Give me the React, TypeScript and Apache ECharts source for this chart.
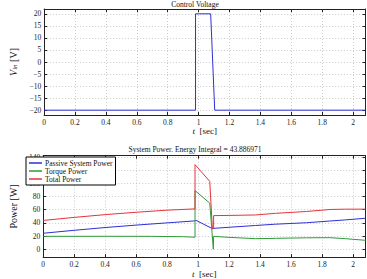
import React, { useEffect, useRef } from "react";
import * as echarts from "echarts";

// Time axis ticks (seconds) and value ticks for each panel
const timeTicks = [0, 0.2, 0.4, 0.6, 0.8, 1, 1.2, 1.4, 1.6, 1.8, 2];
const voltTicks = [-20, -15, -10, -5, 0, 5, 10, 15, 20];
const powerTicks = [0, 20, 40, 60, 80, 100, 120, 140];

// Control voltage [t, V]
const controlVoltage: [number, number][] = [
  [0, -20], [0.98, -20], [0.98, 20], [1.078, 20], [1.104, -20], [2.08, -20],
];

// Passive system power [t, W]
const passivePower: [number, number][] = [
  [0, 24.2], [0.2, 28.7], [0.4, 32.9], [0.6, 36.6], [0.8, 40], [0.98, 43],
  [0.985, 44], [1.09, 31.5], [1.2, 33.3], [1.37, 36], [1.5, 38], [1.7, 40.2],
  [1.85, 42.8], [1.95, 44.5], [2.08, 47],
];

// Torque power [t, W]
const torquePower: [number, number][] = [
  [0, 19.5], [0.4, 19.6], [0.7, 19.5], [0.9, 19], [0.98, 18.2],
  [0.98, 89], [1.075, 70], [1.09, 25], [1.098, 0], [1.1, 19.5],
  [1.2, 18], [1.37, 16], [1.5, 16.5], [1.7, 17.3], [1.85, 17.5], [1.95, 16],
  [2.08, 13.5],
];

// Total power [t, W]
const totalPower: [number, number][] = [
  [0, 43.7], [0.2, 48.3], [0.4, 52.5], [0.6, 56.1], [0.8, 59.3], [0.98, 61.2],
  [0.98, 128.5], [1.075, 103], [1.092, 31], [1.1, 31], [1.1, 51],
  [1.2, 51.3], [1.37, 52], [1.5, 54.5], [1.7, 57.3], [1.85, 60.3], [1.95, 60.8],
  [2.08, 60.8],
];

const FONT = "Liberation Serif";
const AXIS_COLOR = "#222";
const GRID_COLOR = "#bdbdbd";

const fmtMinus = (v: number) => String(v).replace("-", "\u2212");

function mainX(gridIndex: number) {
  return {
    type: "value" as const,
    gridIndex,
    min: 0,
    max: 2.08,
    position: "bottom" as const,
    name: "{i|t}  [sec]",
    nameLocation: "middle" as const,
    nameGap: 8,
    nameTextStyle: {
      fontFamily: FONT,
      fontSize: 9,
      color: "#111",
      rich: { i: { fontFamily: FONT, fontSize: 9, fontStyle: "italic", color: "#111" } },
    },
    axisLine: { show: true, onZero: false, lineStyle: { color: AXIS_COLOR, width: 1 } },
    axisTick: { show: true, inside: true, length: 3, customValues: timeTicks, lineStyle: { color: AXIS_COLOR } },
    axisLabel: { show: true, customValues: timeTicks, margin: 3, fontFamily: FONT, fontSize: 7.5, color: "#222" },
    splitLine: { show: true, lineStyle: { color: GRID_COLOR, type: [1, 2], width: 0.8 } },
  };
}

function mirrorX(gridIndex: number) {
  return {
    type: "value" as const,
    gridIndex,
    min: 0,
    max: 2.08,
    position: "top" as const,
    axisLine: { show: true, onZero: false, lineStyle: { color: AXIS_COLOR, width: 1 } },
    axisTick: { show: true, inside: true, length: 3, customValues: timeTicks, lineStyle: { color: AXIS_COLOR } },
    axisLabel: { show: false },
    splitLine: { show: false },
  };
}

function mainY(gridIndex: number, min: number, max: number, ticks: number[], name: string, rich: any) {
  return {
    type: "value" as const,
    gridIndex,
    min,
    max,
    position: "left" as const,
    name,
    nameLocation: "middle" as const,
    nameGap: 14,
    nameTextStyle: { fontFamily: FONT, fontSize: 10, color: "#111", rich },
    axisLine: { show: true, onZero: false, lineStyle: { color: AXIS_COLOR, width: 1 } },
    axisTick: { show: true, inside: true, length: 3, customValues: ticks, lineStyle: { color: AXIS_COLOR } },
    axisLabel: {
      show: true,
      customValues: ticks,
      margin: 3,
      fontFamily: FONT,
      fontSize: 7.5,
      color: "#222",
      formatter: (v: number) => fmtMinus(v),
    },
    splitLine: { show: true, lineStyle: { color: GRID_COLOR, type: [1, 2], width: 0.8 } },
  };
}

function mirrorY(gridIndex: number, min: number, max: number, ticks: number[]) {
  return {
    type: "value" as const,
    gridIndex,
    min,
    max,
    position: "right" as const,
    axisLine: { show: true, onZero: false, lineStyle: { color: AXIS_COLOR, width: 1 } },
    axisTick: { show: true, inside: true, length: 3, customValues: ticks, lineStyle: { color: AXIS_COLOR } },
    axisLabel: { show: false },
    splitLine: { show: false },
  };
}

export default function App() {
  const ref = useRef<HTMLDivElement>(null);

  useEffect(() => {
    if (!ref.current) return;
    const chart = echarts.init(ref.current, undefined, { renderer: "svg" });

    const lineSeries = (name: string, data: [number, number][], color: string, axis: number) => ({
      name,
      type: "line" as const,
      data,
      xAxisIndex: axis,
      yAxisIndex: axis,
      showSymbol: false,
      symbol: "none",
      lineStyle: { color, width: 1 },
      itemStyle: { color },
      z: 3,
    });

    chart.setOption({
      animation: false,
      backgroundColor: "#fff",
      title: [
        {
          text: "Control Voltage",
          left: 195,
          top: 0,
          padding: 0,
          textAlign: "center",
          textStyle: { fontFamily: FONT, fontSize: 7.5, fontWeight: "normal", color: "#111" },
        },
        {
          text: "System Power. Energy Integral = 43.886971",
          left: 195,
          top: 145,
          padding: 0,
          textAlign: "center",
          textStyle: { fontFamily: FONT, fontSize: 7.5, fontWeight: "normal", color: "#111" },
        },
      ],
      legend: {
        data: ["Passive System Power", "Torque Power", "Total Power"],
        orient: "vertical",
        left: 26,
        top: 157,
        itemWidth: 13,
        itemHeight: 1.5,
        itemGap: 0,
        icon: "rect",
        padding: [2, 3, 2, 3],
        borderColor: "#000",
        borderWidth: 1,
        backgroundColor: "#fff",
        textStyle: { fontFamily: FONT, fontSize: 7.5, color: "#111", lineHeight: 8, padding: [0, 0, 0, -2] },
        z: 10,
      },
      grid: [
        { left: 25, top: 9, width: 340.5, height: 106 },
        { left: 25, top: 155.7, width: 340.5, height: 106 },
      ],
      xAxis: [mainX(0), mainX(1), mirrorX(0), mirrorX(1)],
      yAxis: [
        mainY(0, -22, 22, voltTicks, "{i|V}{s|in} [V]", {
          i: { fontFamily: FONT, fontSize: 10, fontStyle: "italic", color: "#111" },
          s: { fontFamily: FONT, fontSize: 7, fontStyle: "italic", color: "#111", padding: [4, 0, 0, 0] },
        }),
        mainY(1, -12, 142, powerTicks, "Power [W]", {}),
        mirrorY(0, -22, 22, voltTicks),
        mirrorY(1, -12, 142, powerTicks),
      ],
      series: [
        lineSeries("Control Voltage", controlVoltage, "#2f2fd6", 0),
        lineSeries("Passive System Power", passivePower, "#2f2fd6", 1),
        lineSeries("Torque Power", torquePower, "#2e9a3a", 1),
        lineSeries("Total Power", totalPower, "#e5333d", 1),
      ],
    });

    return () => chart.dispose();
  }, []);

  return <div ref={ref} style={{ width: 367, height: 279, position: "absolute", left: 0, top: 0 }} />;
}
